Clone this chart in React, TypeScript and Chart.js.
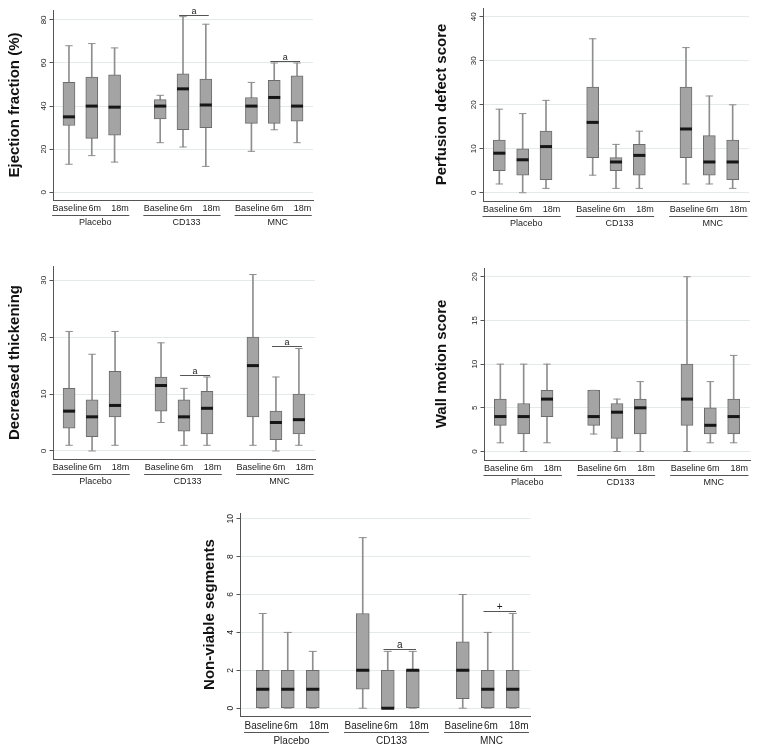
import React, { useEffect, useRef } from 'react';
import { Chart, registerables } from 'chart.js';

Chart.register(...registerables);

// ---------- data ----------
const timepoints = ['Baseline', '6m', '18m'];
const groups = ['Placebo', 'CD133', 'MNC'];
// category slots on the x scale (gaps between groups)
const boxPositions = [1, 2, 3, 5, 6, 7, 9, 10, 11];

// each row: [min, q1, median, q3, max]; order Placebo B/6m/18m, CD133 B/6m/18m, MNC B/6m/18m
const ejectionFraction = [
  [13, 31, 35, 51, 68],
  [17, 25, 40, 53.5, 69],
  [14, 26.5, 39.5, 54.5, 67],
  [23, 34, 40, 43, 45],
  [21, 29, 48, 55, 81.5],
  [12, 30, 40.5, 52.5, 78],
  [19, 32, 40, 44, 51],
  [29, 32, 44, 52, 60],
  [23, 33, 40, 54, 60],
];
const perfusionDefect = [
  [2, 5, 9, 12, 19],
  [0, 4, 7.5, 10, 18],
  [1, 3, 10.5, 14, 21],
  [4, 8, 16, 24, 35],
  [1, 5, 7, 8, 11],
  [1, 4, 8.5, 11, 14],
  [2, 8, 14.5, 24, 33],
  [2, 4, 7, 13, 22],
  [1, 3, 7, 12, 20],
];
const decreasedThickening = [
  [1, 4, 7, 11, 21],
  [0, 2.5, 6, 9, 17],
  [1, 6, 8, 14, 21],
  [5, 7, 11.5, 13, 19],
  [1, 3.5, 6, 9, 11],
  [1, 3, 7.5, 10.5, 13],
  [1, 6, 15, 20, 31],
  [0, 2, 5, 7, 13],
  [1, 3, 5.5, 10, 18],
];
const wallMotion = [
  [1, 3, 4, 6, 10],
  [0, 2, 4, 5.5, 10],
  [1, 4, 6, 7, 10],
  [2, 3, 4, 7, 7],
  [0, 1.5, 4.5, 5.5, 6],
  [0, 2, 5, 6, 8],
  [0, 3, 6, 10, 20],
  [1, 2, 3, 5, 8],
  [1, 2, 4, 6, 11],
];
const nonViable = [
  [0, 0, 1, 2, 5],
  [0, 0, 1, 2, 4],
  [0, 0, 1, 2, 3],
  [0, 1, 2, 5, 9],
  [0, 0, 0, 2, 3],
  [0, 0, 2, 2, 3],
  [0, 0.5, 2, 3.5, 6],
  [0, 0, 1, 2, 4],
  [0, 0, 1, 2, 5],
];

const efTicks = [0, 20, 40, 60, 80];
const pdTicks = [0, 10, 20, 30, 40];
const dtTicks = [0, 10, 20, 30];
const wmTicks = [0, 5, 10, 15, 20];
const nvTicks = [0, 2, 4, 6, 8, 10];

// significance brackets: between box slots, at a value
const efBrackets = [
  { from: 6, to: 7, y: 82.2, label: 'a' },
  { from: 10, to: 11, y: 61.1, label: 'a' },
];
const dtBrackets = [
  { from: 6, to: 7, y: 13.4, label: 'a' },
  { from: 10, to: 11, y: 18.4, label: 'a' },
];
const nvBrackets = [
  { from: 6, to: 7, y: 3.13, label: 'a' },
  { from: 10, to: 11, y: 5.13, label: '+' },
];

// ---------- styles ----------
const FONT = '"Liberation Sans", Arial, Helvetica, sans-serif';
const BOX_FILL = '#a4a4a4';
const BOX_EDGE = '#6c6c6c';
const WHISKER = '#8e8e8e';
const MEDIAN = '#161616';
const GRID = '#e4eaec';
const AXIS = '#555555';
const TEXT = '#1c1c1c';
// horizontal nudge of the time-point labels relative to their box (in slot units)
const LABEL_SHIFT = [0.04, 0.13, 0.24];

type Bracket = { from: number; to: number; y: number; label: string };
type Spec = {
  title: string;
  stats: number[][];
  ticks: number[];
  brackets: Bracket[];
  yMin: number;
  yMax: number;
  xMin: number;
  xMax: number;
  left: number;
  top: number;
  w: number;
  h: number;
  padTop: number;
  yAxisW: number;
  xAxisH: number;
  titlePad: number;
  boxPx: number;
  capR: number;
  font: number;
  yFont: number;
  tickPad: number;
  underline: number;
  groupOff: number;
};

const panels: Spec[] = [
  {
    title: 'Ejection fraction (%)', stats: ejectionFraction, ticks: efTicks, brackets: efBrackets,
    yMin: -3.6, yMax: 84.6, xMin: 0.3, xMax: 11.7,
    left: 3, top: 0, w: 319, h: 230, padTop: 10, yAxisW: 50, xAxisH: 30, titlePad: 3,
    boxPx: 12, capR: 3.7, font: 9, yFont: 8, tickPad: 3, underline: 15, groupOff: 22.5,
  },
  {
    title: 'Perfusion defect score', stats: perfusionDefect, ticks: pdTicks, brackets: [],
    yMin: -1.87, yMax: 42.0, xMin: 0.3, xMax: 11.7,
    left: 433, top: -1, w: 325, h: 232, padTop: 7, yAxisW: 50, xAxisH: 30, titlePad: 0,
    boxPx: 12, capR: 3.7, font: 9, yFont: 8, tickPad: 3, underline: 15, groupOff: 22.5,
  },
  {
    title: 'Decreased thickening', stats: decreasedThickening, ticks: dtTicks, brackets: dtBrackets,
    yMin: -1.41, yMax: 32.5, xMin: 0.3, xMax: 11.7,
    left: 3, top: 256, w: 321, h: 233, padTop: 10, yAxisW: 50, xAxisH: 30, titlePad: 3,
    boxPx: 12, capR: 3.7, font: 9, yFont: 8, tickPad: 3, underline: 15, groupOff: 22.5,
  },
  {
    title: 'Wall motion score', stats: wallMotion, ticks: wmTicks, brackets: [],
    yMin: -0.97, yMax: 21.0, xMin: 0.3, xMax: 11.7,
    left: 433, top: 258, w: 326, h: 232, padTop: 10, yAxisW: 51, xAxisH: 30, titlePad: 0,
    boxPx: 12, capR: 3.7, font: 9, yFont: 8, tickPad: 3, underline: 15, groupOff: 22.5,
  },
  {
    title: 'Non-viable segments', stats: nonViable, ticks: nvTicks, brackets: nvBrackets,
    yMin: -0.41, yMax: 10.3, xMin: 0.09, xMax: 11.71,
    left: 200, top: 503, w: 340, h: 245, padTop: 10, yAxisW: 40, xAxisH: 32, titlePad: 1,
    boxPx: 13, capR: 4, font: 10, yFont: 8.5, tickPad: 4.7, underline: 16, groupOff: 25.7,
  },
];

const labelPos = (i: number) => boxPositions[i] + LABEL_SHIFT[i % 3];

function makeDecorPlugin(spec: Spec) {
  return {
    id: 'decor',
    afterDraw(chart: any) {
      const { ctx, chartArea } = chart;
      const x = chart.scales.x;
      const y = chart.scales.y;
      ctx.save();
      ctx.font = `${spec.font}px ${FONT}`;
      ctx.strokeStyle = AXIS;
      ctx.fillStyle = TEXT;
      ctx.lineWidth = 1;
      ctx.textAlign = 'center';

      // significance brackets
      for (const b of spec.brackets) {
        const x1 = x.getPixelForValue(b.from - 0.17);
        const x2 = x.getPixelForValue(b.to + 0.13);
        const yy = Math.round(y.getPixelForValue(b.y)) + 0.5;
        ctx.beginPath();
        ctx.moveTo(x1, yy);
        ctx.lineTo(x2, yy);
        ctx.stroke();
        ctx.textBaseline = 'alphabetic';
        ctx.fillText(b.label, (x1 + x2) / 2, yy - 1.5);
      }

      // group underlines and group names
      const wFirst = ctx.measureText(timepoints[0]).width;
      const wLast = ctx.measureText(timepoints[timepoints.length - 1]).width;
      groups.forEach((g, gi) => {
        const l = x.getPixelForValue(labelPos(gi * 3)) - wFirst / 2 - 0.5;
        const r = x.getPixelForValue(labelPos(gi * 3 + 2)) + wLast / 2 + 0.5;
        const mid = x.getPixelForValue(boxPositions[gi * 3 + 1] + 0.15);
        const yl = Math.round(chartArea.bottom + spec.underline) + 0.5;
        ctx.beginPath();
        ctx.moveTo(l, yl);
        ctx.lineTo(r, yl);
        ctx.stroke();
        ctx.textBaseline = 'middle';
        ctx.fillText(g, mid, chartArea.bottom + spec.groupOff);
      });
      ctx.restore();
    },
  };
}

function buildConfig(spec: Spec): any {
  const pts = (k: number) => spec.stats.map((s, i) => ({ x: boxPositions[i], y: s[k] }));
  return {
    type: 'bar',
    data: {
      datasets: [
        {
          type: 'bar',
          label: 'whiskers',
          data: spec.stats.map((s, i) => ({ x: boxPositions[i], y: [s[0], s[4]] })),
          backgroundColor: WHISKER,
          borderWidth: 0,
          barThickness: 1,
          grouped: false,
          order: 4,
        },
        {
          type: 'bar',
          label: 'boxes',
          data: spec.stats.map((s, i) => ({ x: boxPositions[i], y: [s[1], s[3]] })),
          backgroundColor: BOX_FILL,
          borderColor: BOX_EDGE,
          borderWidth: 1,
          borderSkipped: false,
          barThickness: spec.boxPx,
          grouped: false,
          order: 3,
        },
        {
          type: 'scatter',
          label: 'caps',
          data: [...pts(0), ...pts(4)],
          pointStyle: 'line',
          pointRadius: spec.capR,
          pointBorderColor: WHISKER,
          pointBorderWidth: 1,
          order: 2,
        },
        {
          type: 'scatter',
          label: 'medians',
          data: pts(2),
          pointStyle: 'line',
          pointRadius: spec.boxPx / 2,
          pointBorderColor: MEDIAN,
          pointBorderWidth: 3,
          order: 1,
        },
      ],
    },
    options: {
      animation: false,
      responsive: false,
      events: [],
      layout: { padding: { top: spec.padTop, right: 2, left: 0, bottom: 0 } },
      plugins: {
        legend: { display: false },
        tooltip: { enabled: false },
      },
      scales: {
        x: {
          type: 'linear',
          bounds: 'data',
          offset: false,
          min: spec.xMin,
          max: spec.xMax,
          afterBuildTicks: (s: any) => {
            s.ticks = boxPositions.map((_v, i) => ({ value: labelPos(i) }));
          },
          afterFit: (s: any) => {
            s.height = spec.xAxisH;
          },
          ticks: {
            autoSkip: false,
            minRotation: 0,
            maxRotation: 0,
            padding: spec.tickPad,
            color: TEXT,
            font: { size: spec.font, family: FONT },
            callback: (_v: any, i: number) => timepoints[i % timepoints.length],
          },
          grid: { display: false, drawTicks: false, offset: false },
          border: { display: true, color: AXIS, width: 1 },
        },
        y: {
          type: 'linear',
          bounds: 'data',
          offset: false,
          min: spec.yMin,
          max: spec.yMax,
          afterBuildTicks: (s: any) => {
            s.ticks = spec.ticks.map((v) => ({ value: v }));
          },
          afterFit: (s: any) => {
            s.width = spec.yAxisW;
          },
          ticks: {
            minRotation: 90,
            maxRotation: 90,
            crossAlign: 'center',
            padding: 1.5,
            color: TEXT,
            font: { size: spec.yFont, family: FONT },
          },
          grid: {
            color: GRID,
            lineWidth: 1,
            drawTicks: true,
            tickLength: 3.5,
            tickColor: AXIS,
          },
          border: { display: true, color: AXIS, width: 1 },
          title: {
            display: true,
            text: spec.title,
            color: '#111111',
            font: { size: 15, weight: 'bold', family: FONT },
            padding: { top: spec.titlePad, bottom: 0 },
          },
        },
      },
    },
    plugins: [makeDecorPlugin(spec)],
  };
}

function Panel({ spec }: { spec: Spec }) {
  const ref = useRef<HTMLCanvasElement>(null);
  useEffect(() => {
    if (!ref.current) return;
    const chart = new Chart(ref.current, buildConfig(spec));
    return () => chart.destroy();
  }, [spec]);
  return (
    <canvas
      ref={ref}
      width={spec.w}
      height={spec.h}
      style={{ position: 'absolute', left: spec.left, top: spec.top, width: spec.w, height: spec.h }}
    />
  );
}

export default function App() {
  return (
    <div
      style={{
        position: 'absolute',
        left: 0,
        top: 0,
        width: 771,
        height: 749,
        background: '#ffffff',
        overflow: 'hidden',
      }}
    >
      {panels.map((p, i) => (
        <Panel key={i} spec={p} />
      ))}
    </div>
  );
}
